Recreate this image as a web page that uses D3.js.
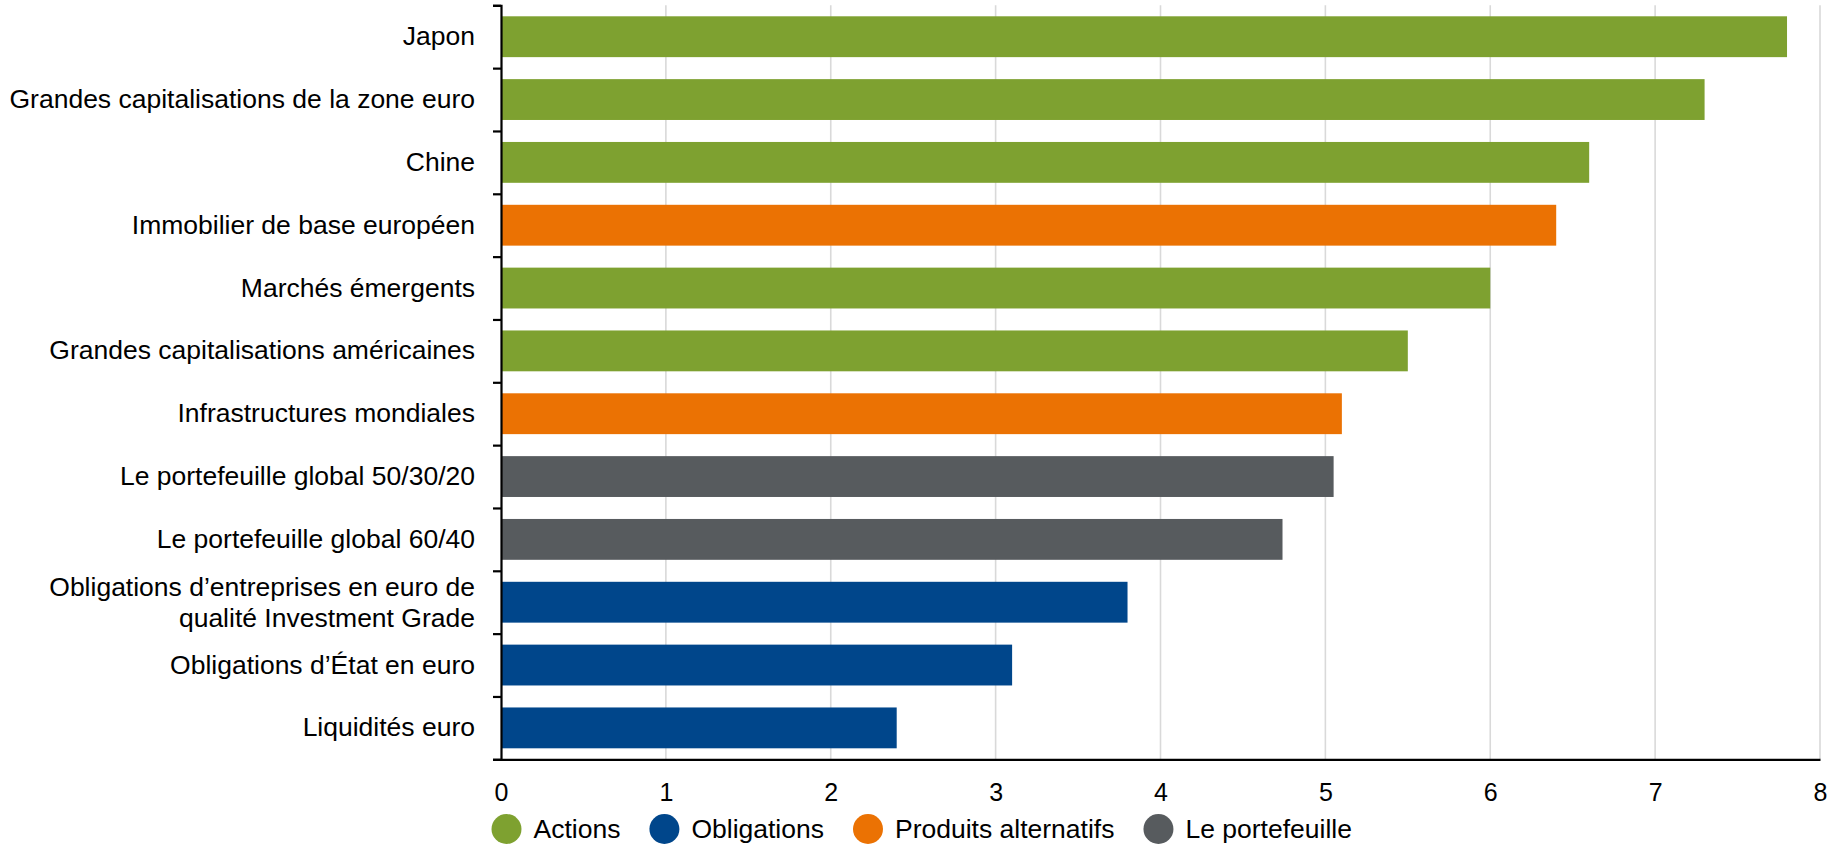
<!DOCTYPE html>
<html>
<head>
<meta charset="utf-8">
<script src="https://cdn.jsdelivr.net/npm/d3@7/dist/d3.min.js"></script>
<style>
  body { margin: 0; background: #fff; }
  text { font-family: "Liberation Sans", Arial, sans-serif; fill: #000; }
</style>
</head>
<body>
<svg id="chart"></svg>
<script>
// categories top to bottom, "\n" = line break in label
const categories = [
  "Japon",
  "Grandes capitalisations de la zone euro",
  "Chine",
  "Immobilier de base européen",
  "Marchés émergents",
  "Grandes capitalisations américaines",
  "Infrastructures mondiales",
  "Le portefeuille global 50/30/20",
  "Le portefeuille global 60/40",
  "Obligations d’entreprises en euro de\nqualité Investment Grade",
  "Obligations d’État en euro",
  "Liquidités euro"
]
const values = [7.8, 7.3, 6.6, 6.4, 6.0, 5.5, 5.1, 5.05, 4.74, 3.8, 3.1, 2.4]
const groups = ["Actions", "Actions", "Actions", "Produits alternatifs", "Actions", "Actions",
  "Produits alternatifs", "Le portefeuille", "Le portefeuille", "Obligations", "Obligations", "Obligations"]
const legendLabels = ["Actions", "Obligations", "Produits alternatifs", "Le portefeuille"]
const legendColors = ["#7ea130", "#00468b", "#eb7203", "#575b5e"]
const xTicks = [0, 1, 2, 3, 4, 5, 6, 7, 8]

const W = 1840, H = 846
const margin = {top: 5.3, right: 20, bottom: 86.7, left: 501},
  width = W - margin.left - margin.right,
  height = H - margin.top - margin.bottom

const data = categories.map((c, i) => ({cat: c, value: values[i], group: groups[i]}))

const color = d3.scaleOrdinal().domain(legendLabels).range(legendColors)

const svg = d3.select("#chart").attr("width", W).attr("height", H)
const g = svg.append("g").attr("transform", "translate(" + margin.left + "," + margin.top + ")")

const x = d3.scaleLinear().domain([0, 8]).range([0, width])
const y = d3.scaleBand().domain(categories).range([0, height])
  .paddingInner(0.35).paddingOuter(0.175)

// vertical gridlines
g.selectAll(".grid")
  .data(xTicks.filter(t => t > 0))
  .enter().append("line")
  .attr("class", "grid")
  .attr("x1", d => x(d)).attr("x2", d => x(d))
  .attr("y1", 0).attr("y2", height)
  .attr("stroke", "#d9d9d9")
  .attr("stroke-width", 1.6)

// bars
g.selectAll(".bar")
  .data(data)
  .enter().append("rect")
  .attr("class", "bar")
  .attr("x", x(0))
  .attr("y", d => y(d.cat))
  .attr("width", d => x(d.value) - x(0))
  .attr("height", y.bandwidth())
  .attr("fill", d => color(d.group))

// x axis
const xAxis = g.append("g")
  .attr("transform", "translate(0," + height + ")")
  .call(d3.axisBottom(x).tickValues(xTicks).tickSize(0).tickPadding(24))
xAxis.select(".domain").attr("stroke", "#000").attr("stroke-width", 2.2)
xAxis.selectAll("text").attr("font-size", 25).attr("font-family", null)

// y axis ticks at band boundaries
const yb = d3.scaleLinear().domain([0, categories.length]).range([0, height])
const yTickAxis = g.append("g")
  .call(d3.axisLeft(yb).ticks(categories.length).tickSize(8).tickSizeOuter(8).tickFormat(""))
yTickAxis.selectAll("line").attr("stroke", "#000").attr("stroke-width", 2.2)
yTickAxis.select(".domain").attr("stroke", "#000").attr("stroke-width", 2.2)

// y labels
const yAxis = g.append("g")
  .call(d3.axisLeft(y).tickSize(0).tickPadding(26))
yAxis.select(".domain").remove()
yAxis.selectAll("text")
  .attr("font-size", 26.5)
  .attr("font-family", null)
  .each(function(d) {
    const lines = d.split("\n")
    if (lines.length < 2) return
    const t = d3.select(this)
    t.text(null).attr("dy", null)
    lines.forEach((l, i) => {
      t.append("tspan")
        .attr("x", t.attr("x"))
        .attr("dy", i == 0 ? (0.35 - (lines.length - 1) * 0.57) + "em" : "1.14em")
        .text(l)
    })
  })

// legend
const legend = svg.append("g").attr("transform", "translate(" + (margin.left + 5.5) + ",829)")
let lx = 0
legendLabels.forEach((lab, i) => {
  const item = legend.append("g").attr("transform", "translate(" + lx + ",0)")
  item.append("circle").attr("r", 15).attr("fill", legendColors[i])
  const t = item.append("text")
    .attr("x", 27)
    .attr("dy", "0.35em")
    .attr("font-size", 26.5)
    .text(lab)
  lx += 27 + t.node().getComputedTextLength() + 44
})
</script>
</body>
</html>
